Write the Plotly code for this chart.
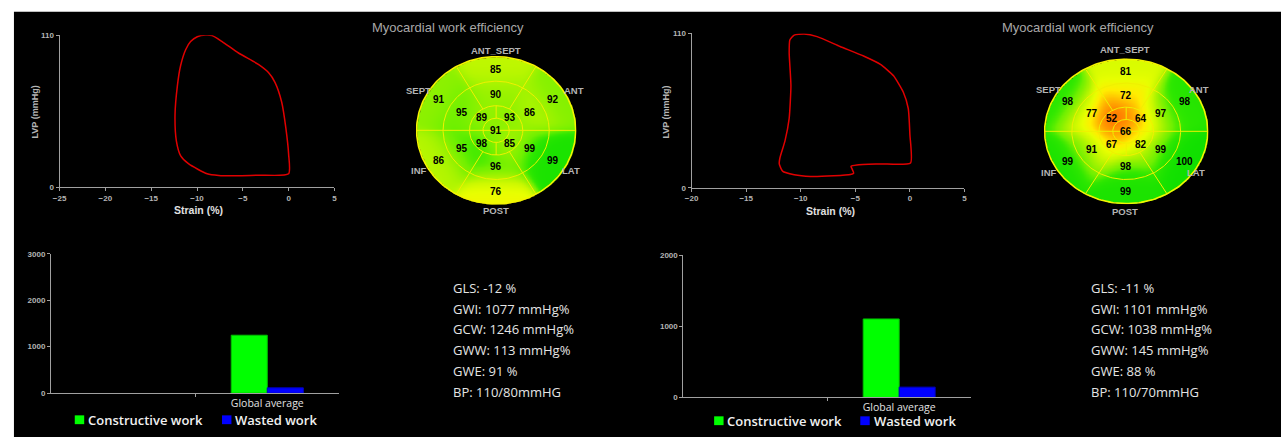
import numpy as np
import plotly.graph_objects as go

W, H = 1281, 437

# ---------------- data ----------------
# Pressure-strain loops (strain %, LVP mmHg)
strain_a = [0, 0, -0.3, -0.76, -1.49, -2.2, -3.3, -5.47, -7.26, -8.35, -9.07, -9.97, -10.7,
            -11.24, -11.8, -12.14, -12.4, -12.25, -11.78, -10.9, -8.89, -7.63, -5.47, -3.3, 0]
lvp_a = [9.7, 23.9, 42.8, 61.7, 75.9, 83, 88.9, 97.2, 105.5, 109.8, 110.2, 109, 105.5,
         99.6, 87.8, 73.6, 52.3, 33.4, 22.7, 16.8, 9.7, 8.5, 8.3, 8.7, 9.7]

strain_b = [0.06, 0, -0.15, -0.6, -1.5, -2.7, -4.2, -6.4, -8.5, -9.7, -10.6, -11.0, -11.06,
            -10.9, -11.06, -11.45, -11.9, -11.97, -11.67, -10.6, -9.1, -6.97, -5.45, -5.15,
            -5.3, -5.4, -4.85, -2.7, 0.06]
lvp_b = [17.7, 37.9, 56.5, 68.1, 79.8, 87.9, 93.7, 100.7, 107.7, 109.5, 108.8, 105.3, 96,
         72.8, 49.5, 33.3, 21.6, 17, 11.9, 9.3, 8.1, 8.6, 9.5, 10.5,
         13.5, 15.3, 16.3, 17, 17.7]

x_ticks_a = [-25, -20, -15, -10, -5, 0, 5]
x_ticks_b = [-20, -15, -10, -5, 0, 5]
y_ticks_loop = [0, 110]

# Bull's-eye segment efficiencies (%)
seg_names = ["ANT_SEPT", "ANT", "LAT", "POST", "INF", "SEPT"]
seg_angles = [90, 30, -30, -90, -150, 150]
apical_angles = [45, 135, 225, 315]

basal_a = [85, 92, 99, 76, 86, 91]
mid_a = [90, 86, 99, 96, 95, 95]
apical_a = [93, 89, 98, 85]
apex_a = 91

basal_b = [81, 98, 100, 99, 99, 98]
mid_b = [72, 97, 99, 98, 91, 77]
apical_b = [64, 52, 67, 82]
apex_b = 66

# Work bars
bar_categories = ["", "Global average"]
constructive_a = [None, 1246]
wasted_a = [None, 113]
constructive_b = [None, 1105]
wasted_b = [None, 145]
bar_ticks_a = [0, 1000, 2000, 3000]
bar_ticks_b = [0, 1000, 2000]

stats_a = ["GLS: -12 %", "GWI: 1077 mmHg%", "GCW: 1246 mmHg%", "GWW: 113 mmHg%", "GWE: 91 %", "BP: 110/80mmHG"]
stats_b = ["GLS: -11 %", "GWI: 1101 mmHg%", "GCW: 1038 mmHg%", "GWW: 145 mmHg%", "GWE: 88 %", "BP: 110/70mmHG"]

legend_labels = ["Constructive work", "Wasted work"]
GREEN = "#00ff00"
BLUE = "#0000ff"

# ---------------- helpers ----------------
def px(x):
    return x / W

def py(y):
    return 1 - y / H

def xdom(a, b):
    return [px(a), px(b)]

def ydom(top, bottom):
    return [py(bottom), py(top)]

R_APEX, R_AP, R_MID = 0.165, 0.335, 0.667
LABEL_R = {"basal": 0.83, "mid": 0.49, "apical": 0.25}

fig = go.Figure()
annotations = []
shapes = []

# background: black canvas with thin white strips at top and left
shapes.append(dict(type="rect", xref="paper", yref="paper", x0=-0.05, x1=px(7), y0=-0.1, y1=1.1,
                   fillcolor="white", line_width=0, layer="below"))
shapes.append(dict(type="rect", xref="paper", yref="paper", x0=-0.05, x1=1.05, y0=py(8), y1=1.1,
                   fillcolor="white", line_width=0, layer="below"))

AX_COL = "#a0a0a0"
TICKFONT = dict(family="Liberation Sans, Arial", size=8, color="#b4b4b4", weight="bold")

def loop_axes(n, xd, yd, xr, xt):
    fig.update_layout(**{
        f"xaxis{n}": dict(domain=xd, range=xr, tickvals=xt, showline=True, linecolor=AX_COL,
                          ticks="outside", ticklen=3, tickcolor=AX_COL, showgrid=False,
                          zeroline=False, tickfont=TICKFONT, anchor=f"y{n}", fixedrange=True),
        f"yaxis{n}": dict(domain=yd, range=[0, 110], tickvals=y_ticks_loop, showline=True,
                          linecolor=AX_COL, ticks="outside", ticklen=3, tickcolor=AX_COL,
                          showgrid=False, zeroline=False, tickfont=TICKFONT, anchor=f"x{n}",
                          fixedrange=True),
    })

# ---------------- PV loops ----------------
loop_axes(1, xdom(53, 330), ydom(32, 187), [-25, 5], x_ticks_a)
fig.add_trace(go.Scatter(x=strain_a, y=lvp_a, mode="lines", xaxis="x1", yaxis="y1",
                         line=dict(color="#e00000", width=1.5, shape="spline", smoothing=0.6),
                         showlegend=False, hoverinfo="skip"))
loop_axes(3, xdom(690, 965), ydom(30, 187.7), [-20, 5], x_ticks_b)
fig.add_trace(go.Scatter(x=strain_b, y=lvp_b, mode="lines", xaxis="x3", yaxis="y3",
                         line=dict(color="#e00000", width=1.5, shape="spline", smoothing=0.5),
                         showlegend=False, hoverinfo="skip"))

AXT = dict(family="Liberation Sans, Arial", size=10.5, color="#e0e0e0", weight="bold")
for (xc, yc) in [(193, 210), (830, 211)]:
    annotations.append(dict(x=px(xc), y=py(yc), xref="paper", yref="paper", text="Strain (%)",
                            showarrow=False, font=AXT, xanchor="center", yanchor="middle"))
for (xc, yc) in [(28, 110), (664, 110)]:
    annotations.append(dict(x=px(xc), y=py(yc), xref="paper", yref="paper", text="LVP (mmHg)",
                            showarrow=False, textangle=-90,
                            font=dict(family="Liberation Sans, Arial", size=9, color="#b4b4b4", weight="bold"),
                            xanchor="center", yanchor="middle"))

# ---------------- Bull's-eyes ----------------
colorscale = [
    [0.000, "#c01800"],
    [0.200, "#ff4000"],
    [0.333, "#ff7000"],
    [0.450, "#ffb000"],
    [0.550, "#ffee00"],
    [0.633, "#e8ff00"],
    [0.733, "#c8f800"],
    [0.833, "#98f200"],
    [0.900, "#70f000"],
    [0.950, "#30e800"],
    [1.000, "#10e000"],
]
ZMIN, ZMAX = 40, 100
SIGMA = 0.17

def seg_points(basal, mid, apical, apex):
    pts = []
    for v, a in zip(basal, seg_angles):
        pts.append((LABEL_R["basal"], a, v))
    for v, a in zip(mid, seg_angles):
        pts.append((LABEL_R["mid"], a, v))
    for v, a in zip(apical, apical_angles):
        pts.append((LABEL_R["apical"], a, v))
    pts.append((0.0, 0, apex))
    return pts

def bullseye(n, xd, yd, basal, mid, apical, apex):
    pts = seg_points(basal, mid, apical, apex)
    N = 241
    g = np.linspace(-1, 1, N)
    X, Y = np.meshgrid(g, g)
    num = np.zeros_like(X)
    den = np.zeros_like(X)
    for r, a, v in pts:
        cx, cy = r * np.cos(np.radians(a)), r * np.sin(np.radians(a))
        d2 = (X - cx) ** 2 + (Y - cy) ** 2
        w = np.exp(-d2 / (2 * SIGMA ** 2)) + 1e-9
        num += w * v
        den += w
    Z = num / den
    Z[X ** 2 + Y ** 2 > 1.0] = np.nan
    fig.add_trace(go.Heatmap(x=g, y=g, z=Z, colorscale=colorscale, zmin=ZMIN, zmax=ZMAX,
                             showscale=False, xaxis=f"x{n}", yaxis=f"y{n}", hoverinfo="skip",
                             zsmooth="best"))
    lx, ly = [], []
    t = np.linspace(0, 2 * np.pi, 241)
    for r in [R_APEX, R_AP, R_MID]:
        lx += list(r * np.cos(t)) + [None]
        ly += list(r * np.sin(t)) + [None]
    lx += [-1, 1, None]
    ly += [0, 0, None]
    for a in [60, 120, 240, 300]:
        c, s = np.cos(np.radians(a)), np.sin(np.radians(a))
        lx += [R_AP * c, c, None]
        ly += [R_AP * s, s, None]
    for a in [90, 270]:
        c, s = np.cos(np.radians(a)), np.sin(np.radians(a))
        lx += [R_APEX * c, R_AP * c, None]
        ly += [R_APEX * s, R_AP * s, None]
    fig.add_trace(go.Scatter(x=lx, y=ly, mode="lines", line=dict(color="#f0f000", width=1),
                             xaxis=f"x{n}", yaxis=f"y{n}", showlegend=False, hoverinfo="skip"))
    fig.add_trace(go.Scatter(x=list(np.cos(t)), y=list(np.sin(t)), mode="lines",
                             line=dict(color="#f4f400", width=1.6),
                             xaxis=f"x{n}", yaxis=f"y{n}", showlegend=False, hoverinfo="skip"))
    fig.update_layout(**{
        f"xaxis{n}": dict(domain=xd, range=[-1.01, 1.01], visible=False, anchor=f"y{n}", fixedrange=True),
        f"yaxis{n}": dict(domain=yd, range=[-1.01, 1.01], visible=False, anchor=f"x{n}", fixedrange=True),
    })
    for r, a, v in pts:
        annotations.append(dict(x=r * np.cos(np.radians(a)), y=r * np.sin(np.radians(a)),
                                xref=f"x{n}", yref=f"y{n}", text=str(v), showarrow=False,
                                font=dict(family="Liberation Sans, Arial", size=10, color="black", weight="bold"),
                                xanchor="center", yanchor="middle"))

bullseye(2, xdom(412, 574), ydom(53, 205), basal_a, mid_a, apical_a, apex_a)
bullseye(4, xdom(1045, 1211), ydom(55.5, 204.5), basal_b, mid_b, apical_b, apex_b)

LBLF = dict(family="Liberation Sans, Arial", size=9.5, color="#b4b4b4", weight="bold")
outer_a = [(492.7, 47.3), (571.7, 88.3), (568.3, 170), (492.7, 210.7), (415, 170), (415, 88.3)]
outer_b = [(1126.7, 46.7), (1201.7, 87.3), (1198, 171.7), (1126.7, 212.3), (1050, 171.7), (1050, 87.3)]
for pos in [outer_a, outer_b]:
    for name, (xc, yc) in zip(seg_names, pos):
        annotations.append(dict(x=px(xc), y=py(yc), xref="paper", yref="paper", text=name,
                                showarrow=False, font=LBLF, xanchor="center", yanchor="middle"))
for xc in [444, 1079]:
    annotations.append(dict(x=px(xc), y=py(24), xref="paper", yref="paper",
                            text="Myocardial work efficiency", showarrow=False,
                            font=dict(family="Liberation Sans, Arial", size=13, color="#a8a8a8"),
                            xanchor="center", yanchor="middle"))

# ---------------- Bars ----------------
def bar_axes(n, xd, yd, yr, yt):
    fig.update_layout(**{
        f"xaxis{n}": dict(domain=xd, range=[-0.5, 1.5], tickvals=list(range(len(bar_categories))),
                          ticktext=bar_categories, showline=True, linecolor=AX_COL, ticks="",
                          showgrid=False, zeroline=False, anchor=f"y{n}", fixedrange=True,
                          tickfont=dict(family="Open Sans", size=10.5, color="#e0e0e0"),
                          minor=dict(tickmode="array", tickvals=[0.5], ticks="outside", ticklen=3,
                                     tickcolor=AX_COL, showgrid=False)),
        f"yaxis{n}": dict(domain=yd, range=yr, tickvals=yt, showline=True, linecolor=AX_COL,
                          ticks="outside", ticklen=3, tickcolor=AX_COL, showgrid=False,
                          zeroline=False, tickfont=TICKFONT, anchor=f"x{n}", fixedrange=True),
    })

idx = list(range(len(bar_categories)))
bar_axes(5, xdom(44.3, 335), ydom(255, 397.3), [0, 3000], bar_ticks_a)
fig.add_trace(go.Bar(x=idx, y=constructive_a, name=legend_labels[0], marker=dict(color=GREEN, line=dict(color="#00c000", width=1)),
                     xaxis="x5", yaxis="y5", showlegend=False, hoverinfo="skip"))
fig.add_trace(go.Bar(x=idx, y=wasted_a, name=legend_labels[1], marker=dict(color=BLUE, line=dict(color="#0000c0", width=1)),
                     xaxis="x5", yaxis="y5", showlegend=False, hoverinfo="skip"))
bar_axes(6, xdom(681.7, 971.7), ydom(256.7, 401.7), [0, 2000], bar_ticks_b)
fig.add_trace(go.Bar(x=idx, y=constructive_b, name=legend_labels[0], marker=dict(color=GREEN, line=dict(color="#00c000", width=1)),
                     xaxis="x6", yaxis="y6", showlegend=False, hoverinfo="skip"))
fig.add_trace(go.Bar(x=idx, y=wasted_b, name=legend_labels[1], marker=dict(color=BLUE, line=dict(color="#0000c0", width=1)),
                     xaxis="x6", yaxis="y6", showlegend=False, hoverinfo="skip"))

# legends (swatch + label)
LEGF = dict(family="Open Sans", size=13, color="#f0f0f0", weight=600)
for (g0, t0, b0, t1, yc) in [(68.3, 80, 216.7, 228, 424.5), (712.7, 724, 860, 872, 425.5)]:
    for sx, tx, col, lab in [(g0, t0, GREEN, legend_labels[0]), (b0, t1, BLUE, legend_labels[1])]:
        shapes.append(dict(type="rect", xref="paper", yref="paper", x0=px(sx), x1=px(sx + 9.5),
                           y0=py(yc + 4.5), y1=py(yc - 4.5), fillcolor=col, line_width=0))
        annotations.append(dict(x=px(tx), y=py(yc), xref="paper", yref="paper", text=lab,
                                showarrow=False, font=LEGF, xanchor="left", yanchor="middle"))

# ---------------- stats text ----------------
STF = dict(family="Open Sans", size=13, color="#e4e4e4")
line_y = [290, 311.3, 332.3, 353, 375, 396]
for x0, lines in [(447.7, stats_a), (1090.7, stats_b)]:
    for yc, s in zip(line_y, lines):
        annotations.append(dict(x=px(x0), y=py(yc), xref="paper", yref="paper", text=s,
                                showarrow=False, font=STF, xanchor="left", yanchor="middle"))

fig.update_layout(
    width=W, height=H, margin=dict(l=0, r=0, t=0, b=0),
    paper_bgcolor="black", plot_bgcolor="rgba(0,0,0,0)",
    barmode="group", bargap=0.5, bargroupgap=0,
    showlegend=False, annotations=annotations, shapes=shapes,
)
fig.write_html("out.html",
               config={"displayModeBar": False, "staticPlot": True},
               post_script="document.body.style.margin='0';document.body.style.padding='0';"
                           "document.body.style.overflow='hidden';"
                           "document.documentElement.style.overflow='hidden';")
